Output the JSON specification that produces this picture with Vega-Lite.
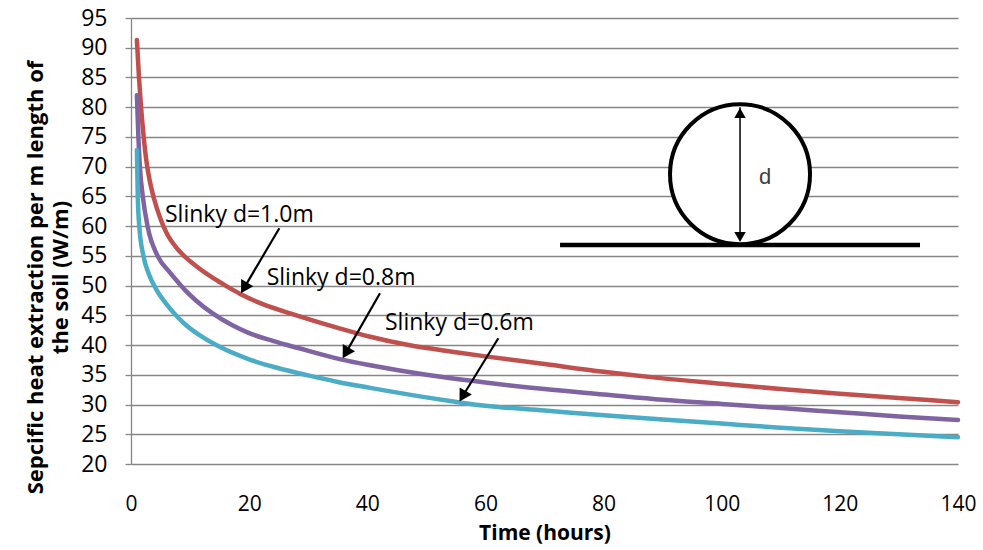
{
  "$schema": "https://vega.github.io/schema/vega-lite/v6.json",
  "width": 827,
  "height": 446,
  "autosize": {"type": "none"},
  "padding": {"left": 131, "top": 18, "right": 25, "bottom": 86},
  "background": "white",
  "config": {"view": {"stroke": null}},
  "datasets": {
    "curves": [
      {"s": "d=1.0m", "t": 1, "v": 91.3}, {"s": "d=1.0m", "t": 1.35, "v": 85}, {"s": "d=1.0m", "t": 1.7, "v": 80}, {"s": "d=1.0m", "t": 2.1, "v": 75.5}, {"s": "d=1.0m", "t": 2.6, "v": 71}, {"s": "d=1.0m", "t": 3.2, "v": 67.5}, {"s": "d=1.0m", "t": 3.9, "v": 64.6}, {"s": "d=1.0m", "t": 5.0, "v": 61.2}, {"s": "d=1.0m", "t": 6, "v": 58.9}, {"s": "d=1.0m", "t": 7.5, "v": 56.6}, {"s": "d=1.0m", "t": 9.3, "v": 54.7}, {"s": "d=1.0m", "t": 11, "v": 53.3}, {"s": "d=1.0m", "t": 14, "v": 51.2}, {"s": "d=1.0m", "t": 16, "v": 50}, {"s": "d=1.0m", "t": 18.5, "v": 48.6}, {"s": "d=1.0m", "t": 22, "v": 47.0}, {"s": "d=1.0m", "t": 28, "v": 45}, {"s": "d=1.0m", "t": 35, "v": 42.9}, {"s": "d=1.0m", "t": 40.5, "v": 41.4}, {"s": "d=1.0m", "t": 47, "v": 40}, {"s": "d=1.0m", "t": 55, "v": 38.8}, {"s": "d=1.0m", "t": 60, "v": 38.1}, {"s": "d=1.0m", "t": 70, "v": 36.8}, {"s": "d=1.0m", "t": 80, "v": 35.5}, {"s": "d=1.0m", "t": 90, "v": 34.4}, {"s": "d=1.0m", "t": 100, "v": 33.5}, {"s": "d=1.0m", "t": 110, "v": 32.6}, {"s": "d=1.0m", "t": 120, "v": 31.8}, {"s": "d=1.0m", "t": 130, "v": 31.1}, {"s": "d=1.0m", "t": 140, "v": 30.4},
      {"s": "d=0.8m", "t": 1, "v": 82}, {"s": "d=0.8m", "t": 1.25, "v": 75}, {"s": "d=0.8m", "t": 1.5, "v": 70}, {"s": "d=0.8m", "t": 2, "v": 65}, {"s": "d=0.8m", "t": 2.8, "v": 60}, {"s": "d=0.8m", "t": 4.5, "v": 55}, {"s": "d=0.8m", "t": 6.5, "v": 52.3}, {"s": "d=0.8m", "t": 8.3, "v": 50.2}, {"s": "d=0.8m", "t": 9.5, "v": 48.9}, {"s": "d=0.8m", "t": 11, "v": 47.5}, {"s": "d=0.8m", "t": 13.7, "v": 45.4}, {"s": "d=0.8m", "t": 17, "v": 43.4}, {"s": "d=0.8m", "t": 20, "v": 42.0}, {"s": "d=0.8m", "t": 24, "v": 40.7}, {"s": "d=0.8m", "t": 28.3, "v": 39.5}, {"s": "d=0.8m", "t": 35.5, "v": 37.6}, {"s": "d=0.8m", "t": 40.5, "v": 36.6}, {"s": "d=0.8m", "t": 50, "v": 35}, {"s": "d=0.8m", "t": 60, "v": 33.7}, {"s": "d=0.8m", "t": 70, "v": 32.6}, {"s": "d=0.8m", "t": 80, "v": 31.7}, {"s": "d=0.8m", "t": 90, "v": 30.8}, {"s": "d=0.8m", "t": 100, "v": 30.1}, {"s": "d=0.8m", "t": 110, "v": 29.4}, {"s": "d=0.8m", "t": 120, "v": 28.7}, {"s": "d=0.8m", "t": 130, "v": 28.0}, {"s": "d=0.8m", "t": 140, "v": 27.4},
      {"s": "d=0.6m", "t": 1, "v": 72.8}, {"s": "d=0.6m", "t": 1.15, "v": 65}, {"s": "d=0.6m", "t": 1.4, "v": 60}, {"s": "d=0.6m", "t": 2.1, "v": 55}, {"s": "d=0.6m", "t": 3, "v": 52}, {"s": "d=0.6m", "t": 4.2, "v": 49.5}, {"s": "d=0.6m", "t": 6, "v": 46.9}, {"s": "d=0.6m", "t": 8, "v": 44.6}, {"s": "d=0.6m", "t": 9.5, "v": 43.2}, {"s": "d=0.6m", "t": 12, "v": 41.4}, {"s": "d=0.6m", "t": 15, "v": 39.7}, {"s": "d=0.6m", "t": 20, "v": 37.6}, {"s": "d=0.6m", "t": 25, "v": 36.1}, {"s": "d=0.6m", "t": 30, "v": 34.9}, {"s": "d=0.6m", "t": 35, "v": 33.8}, {"s": "d=0.6m", "t": 40.5, "v": 32.8}, {"s": "d=0.6m", "t": 50, "v": 31.2}, {"s": "d=0.6m", "t": 55.4, "v": 30.4}, {"s": "d=0.6m", "t": 60, "v": 29.8}, {"s": "d=0.6m", "t": 70, "v": 29.0}, {"s": "d=0.6m", "t": 80, "v": 28.2}, {"s": "d=0.6m", "t": 90, "v": 27.5}, {"s": "d=0.6m", "t": 100, "v": 26.8}, {"s": "d=0.6m", "t": 110, "v": 26.1}, {"s": "d=0.6m", "t": 120, "v": 25.5}, {"s": "d=0.6m", "t": 130, "v": 25.0}, {"s": "d=0.6m", "t": 140, "v": 24.5}
    ],
    "arrows": [
      {"t": 25.11, "v": 59.64, "t2": 19.15, "v2": 49.62},
      {"t": 42.15, "v": 48.71, "t2": 36.36, "v2": 38.69},
      {"t": 62.18, "v": 41.14, "t2": 56.14, "v2": 31.39}
    ],
    "labels": [
      {"t": 5.75, "v": 61.87, "label": "Slinky d=1.0m"},
      {"t": 22.97, "v": 51.23, "label": "Slinky d=0.8m"},
      {"t": 43.0, "v": 43.66, "label": "Slinky d=0.6m"}
    ],
    "circle": [{"t": 103.1, "v": 68.73}],
    "base": [{"t": 72.63, "t2": 133.57, "v": 56.83}],
    "diam": [{"t": 103.1, "v": 80.0, "v2": 57.67}],
    "dtop": [{"t": 103.1, "v": 79.03}],
    "dbot": [{"t": 103.1, "v": 58.17}],
    "dlabel": [{"t": 106.3, "v": 68.26, "label": "d"}]
  },
  "encoding": {
    "x": {
      "field": "t", "type": "quantitative",
      "scale": {"domain": [0, 140], "nice": false, "zero": false},
      "axis": {
        "values": [0, 20, 40, 60, 80, 100, 120, 140],
        "grid": false, "domain": false, "ticks": false, "labelFlush": false,
        "labelPadding": 29, "labelFontSize": 21, "labelFont": "Open Sans", "labelColor": "black",
        "title": "Time (hours)", "titleFont": "Open Sans", "titleFontSize": 21, "titleFontWeight": "bold", "titleColor": "black", "titlePadding": 8
      }
    },
    "y": {
      "field": "v", "type": "quantitative",
      "scale": {"domain": [20, 95], "nice": false, "zero": false},
      "axis": {
        "values": [20, 25, 30, 35, 40, 45, 50, 55, 60, 65, 70, 75, 80, 85, 90, 95],
        "grid": true, "gridColor": "#868686", "gridWidth": 1.3,
        "domainColor": "#868686", "domainWidth": 1.3,
        "tickColor": "#868686", "tickSize": 6, "tickWidth": 1.3,
        "labelPadding": 18, "labelFontSize": 23, "labelFont": "Open Sans", "labelColor": "black",
        "title": ["Sepcific heat extraction per m length of", "the soil (W/m)"],
        "titleFont": "Open Sans", "titleFontSize": 22, "titleFontWeight": "bold", "titleColor": "black", "titleLineHeight": 25, "titlePadding": 8, "titleY": 259
      }
    }
  },
  "layer": [
    {
      "data": {"name": "curves"},
      "mark": {"type": "line", "strokeWidth": 4.5, "strokeCap": "round", "interpolate": "monotone"},
      "encoding": {
        "color": {"field": "s", "type": "nominal", "legend": null,
          "scale": {"domain": ["d=1.0m", "d=0.8m", "d=0.6m"], "range": ["#C0504D", "#8064A2", "#4BACC6"]}},
        "detail": {"field": "s"}
      }
    },
    {
      "data": {"name": "arrows"},
      "mark": {"type": "rule", "color": "black", "strokeWidth": 2.2},
      "encoding": {"x2": {"field": "t2"}, "y2": {"field": "v2"}}
    },
    {
      "data": {"name": "arrows"},
      "mark": {"type": "point", "shape": "triangle-up", "filled": true, "color": "black", "opacity": 1, "size": 200, "angle": 210.5},
      "encoding": {"x": {"field": "t2", "type": "quantitative"}, "y": {"field": "v2", "type": "quantitative"}}
    },
    {
      "data": {"name": "labels"},
      "mark": {"type": "text", "align": "left", "baseline": "middle", "font": "Open Sans", "fontSize": 23, "color": "black"},
      "encoding": {"text": {"field": "label"}}
    },
    {
      "data": {"name": "base"},
      "mark": {"type": "rule", "color": "black", "strokeWidth": 4.5},
      "encoding": {"x2": {"field": "t2"}}
    },
    {
      "data": {"name": "circle"},
      "mark": {"type": "point", "shape": "circle", "filled": true, "fill": "white", "stroke": "black", "strokeWidth": 4, "opacity": 1, "size": 19600},
      "encoding": {}
    },
    {
      "data": {"name": "diam"},
      "mark": {"type": "rule", "color": "black", "strokeWidth": 1.5},
      "encoding": {"y2": {"field": "v2"}}
    },
    {
      "data": {"name": "dtop"},
      "mark": {"type": "point", "shape": "triangle-up", "filled": true, "color": "black", "opacity": 1, "size": 130},
      "encoding": {}
    },
    {
      "data": {"name": "dbot"},
      "mark": {"type": "point", "shape": "triangle-down", "filled": true, "color": "black", "opacity": 1, "size": 130},
      "encoding": {}
    },
    {
      "data": {"name": "dlabel"},
      "mark": {"type": "text", "align": "left", "baseline": "middle", "font": "Liberation Sans", "fontSize": 22, "color": "#404040"},
      "encoding": {"text": {"field": "label"}}
    }
  ]
}
